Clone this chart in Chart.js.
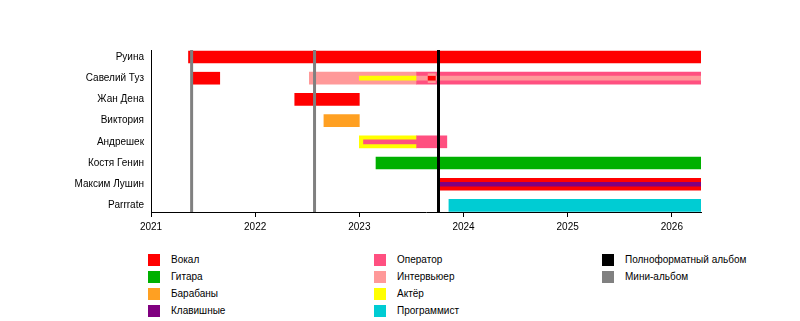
<!DOCTYPE html>
<html>
<head>
<meta charset="utf-8">
<script src="https://cdn.jsdelivr.net/npm/chart.js@4"></script>
<style>
body { margin: 0; background: #fff; font-family: "Liberation Sans", Arial, sans-serif; }
#wrap { position: relative; width: 800px; height: 321px; }
#legend .sw { position: absolute; width: 12px; height: 12px; }
#legend .tx { position: absolute; font-size: 10px; line-height: 12px; color: #000; white-space: nowrap; }
</style>
</head>
<body>
<div id="wrap">
    <canvas id="myChart" width="800" height="240"></canvas>
    <div id="legend"></div>
</div>
<script>
// ДАННЫЕ

const members = ['Руина', 'Савелий Туз', 'Жан Дена', 'Виктория', 'Андрешек', 'Костя Генин', 'Максим Лушин', 'Parrrate'];
const yearTicks = [2021, 2022, 2023, 2024, 2025, 2026];
const END = 2026.28;

const fullAlbums = [2023.76];
const miniAlbums = [2021.39, 2022.57];

// [участник, начало, конец] - основные полосы
const vocal = [[0, 2021.36, END], [1, 2021.40, 2021.66], [2, 2022.38, 2023.0], [6, 2023.77, END]];
const guitar = [[5, 2023.16, END]];
const drums = [[3, 2022.66, 2023.0]];
const operator = [[1, 2023.55, END], [4, 2023.55, 2023.84]];
const interviewer = [[1, 2022.52, 2023.55]];
const actor = [[4, 2023.0, 2023.55]];
const programmer = [[7, 2023.86, END]];

// средняя полоса
const interviewerMid = [[1, 2023.66, 2023.73]];

// тонкие полосы внутри
const vocalInner = [[1, 2023.66, 2023.73]];
const keysInner = [[6, 2023.77, END]];
const operatorInner = [[4, 2023.04, 2023.55]];
const interviewerInner = [[1, 2023.55, END]];
const actorInner = [[1, 2023.0, 2023.55]];

// легенда
const roleNames = ['Вокал', 'Гитара', 'Барабаны', 'Клавишные', 'Оператор', 'Интервьюер', 'Актёр', 'Программист'];
const roleColors = ['#ff0000', '#00b000', '#ffa022', '#800080', '#ff5080', '#ff9999', '#ffff00', '#00ccd3'];
const albumNames = ['Полноформатный альбом', 'Мини-альбом'];
const albumColors = ['#000000', '#808080'];

// ФИН ДАННЫЕ

function spans(list, color, thick, order) {
    return {
        data: list.map(s => ({ x: [s[1], s[2]], y: s[0] })),
        backgroundColor: color,
        barThickness: thick,
        grouped: false,
        borderWidth: 0,
        order: order
    };
}

const C = {};
roleNames.forEach((n, i) => { C[n] = roleColors[i]; });

const datasets = [
    spans(vocalInner, C['Вокал'], 4, 0),
    spans(keysInner, C['Клавишные'], 4, 0),
    spans(operatorInner, C['Оператор'], 4, 0),
    spans(interviewerInner, C['Интервьюер'], 4, 0),
    spans(actorInner, C['Актёр'], 4, 0),
    spans(interviewerMid, C['Интервьюер'], 9, 1),
    spans(vocal, C['Вокал'], 12, 2),
    spans(guitar, C['Гитара'], 12, 2),
    spans(drums, C['Барабаны'], 12, 2),
    spans(operator, C['Оператор'], 12, 2),
    spans(interviewer, C['Интервьюер'], 12, 2),
    spans(actor, C['Актёр'], 12, 2),
    spans(programmer, C['Программист'], 12, 2)
];

// линии альбомов
const albumLines = {
    id: 'albumLines',
    afterDatasetsDraw(chart) {
        const { ctx, chartArea, scales: { x } } = chart;
        ctx.save();
        ctx.lineWidth = 3;
        [[miniAlbums, albumColors[1]], [fullAlbums, albumColors[0]]].forEach(([list, color]) => {
            ctx.strokeStyle = color;
            list.forEach(v => {
                const px = x.getPixelForValue(v);
                ctx.beginPath();
                ctx.moveTo(px, chartArea.top);
                ctx.lineTo(px, chartArea.bottom);
                ctx.stroke();
            });
        });
        ctx.restore();
    }
};

const config = {
    type: 'bar',
    data: { datasets: datasets },
    options: {
        responsive: false,
        animation: false,
        indexAxis: 'y',
        layout: { padding: { top: 50, right: 99, left: 0, bottom: 0 } },
        plugins: { legend: { display: false }, tooltip: { enabled: false } },
        scales: {
            x: {
                type: 'linear',
                min: 2021,
                max: END,
                afterBuildTicks: s => { s.ticks = yearTicks.map(v => ({ value: v })); },
                afterFit: s => { s.height = 28; },
                ticks: { callback: v => String(v), color: '#000', font: { size: 10, family: '"Liberation Sans", Arial' }, padding: 4, maxRotation: 0, autoSkip: false },
                grid: { drawOnChartArea: false, tickLength: 5, color: '#000' },
                border: { color: '#000', width: 1 }
            },
            y: {
                type: 'linear',
                reverse: true,
                offset: false,
                min: -0.33,
                max: 7.31,
                afterBuildTicks: s => { s.ticks = members.map((m, i) => ({ value: i })); },
                afterFit: s => { s.width = 151; },
                ticks: { callback: v => members[v], color: '#000', font: { size: 10, family: '"Liberation Sans", Arial' }, padding: 7, autoSkip: false },
                grid: { display: false, drawTicks: false },
                border: { color: '#000', width: 1 }
            }
        }
    },
    plugins: [albumLines]
};

const myChart = new Chart(document.getElementById('myChart'), config);

// ЛЕГЕНДА
const legend = document.getElementById('legend');
const colX = [148, 374, 602];
const rowY = [254, 271, 288, 305];
const items = roleNames.map((n, i) => [n, roleColors[i]]).concat(albumNames.map((n, i) => [n, albumColors[i]]));
items.forEach(([name, color], i) => {
    const col = Math.floor(i / 4), row = i % 4;
    const sw = document.createElement('div');
    sw.className = 'sw';
    sw.style.left = colX[col] + 'px';
    sw.style.top = rowY[row] + 'px';
    sw.style.background = color;
    legend.appendChild(sw);
    const tx = document.createElement('div');
    tx.className = 'tx';
    tx.style.left = (colX[col] + 23) + 'px';
    tx.style.top = rowY[row] + 'px';
    tx.textContent = name;
    legend.appendChild(tx);
});
</script>
</body>
</html>
